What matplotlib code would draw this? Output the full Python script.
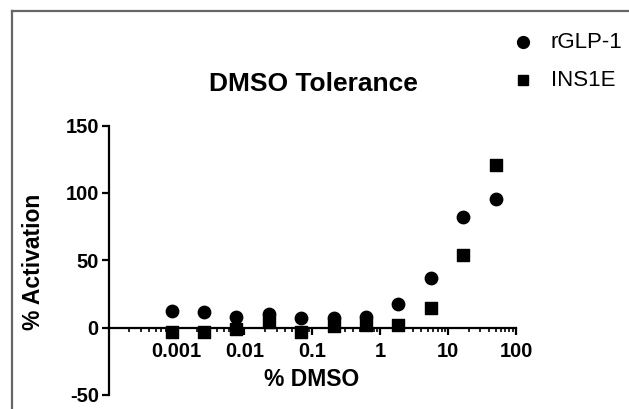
import matplotlib
matplotlib.use("Agg")
import matplotlib.pyplot as plt
from matplotlib.lines import Line2D
from matplotlib.ticker import LogLocator, FixedLocator, NullFormatter

plt.rcParams['font.family'] = ['Liberation Sans', 'DejaVu Sans']
plt.rcParams['axes.unicode_minus'] = False

# Data
dmso = [50/3**10, 50/3**9, 50/3**8, 50/3**7, 50/3**6, 50/3**5,
        50/3**4, 50/3**3, 50/3**2, 50/3, 50]
rglp1 = [12, 11.5, 7.6, 10, 6.8, 7.1, 8.1, 17.7, 37.1, 82.2, 95.3]
ins1e = [-3.2, -3.1, -0.7, 3.9, -3.2, 1.0, 2.2, 1.7, 14.4, 54, 121]
xticks = [0.001, 0.01, 0.1, 1, 10, 100]
xticklabels = ['0.001', '0.01', '0.1', '1', '10', '100']
yticks = [-50, 0, 50, 100, 150]

W, H = 629, 409
fig = plt.figure(figsize=(W/100, H/100), dpi=100)

# frame lines (top and left visible in the crop)
fig.add_artist(Line2D([12/W, 12/W], [0, 1 - 11/H], transform=fig.transFigure,
                      color='#666666', lw=1.6))
fig.add_artist(Line2D([12/W, 1], [1 - 11/H, 1 - 11/H], transform=fig.transFigure,
                      color='#666666', lw=1.6))

left, right = 108.5, 516
top, bottom = 125.5, 395
ax = fig.add_axes([left/W, 1 - bottom/H, (right-left)/W, (bottom-top)/H])

ax.scatter(dmso, rglp1, marker='o', s=80, color='black', zorder=3, clip_on=False)
ax.scatter(dmso, ins1e, marker='s', s=72, color='black', zorder=3, clip_on=False)

ax.set_xscale('log')
ax.set_xlim(1e-4, 100)
ax.set_ylim(-50, 150)

for s in ['top', 'right']:
    ax.spines[s].set_visible(False)
ax.spines['bottom'].set_position(('data', 0))
ax.spines['left'].set_linewidth(1.6)
ax.spines['bottom'].set_linewidth(1.6)

ax.xaxis.set_major_locator(FixedLocator(xticks))
ax.set_xticklabels(xticklabels)
ax.xaxis.set_minor_locator(LogLocator(base=10, subs=range(2, 10), numticks=20))
ax.xaxis.set_minor_formatter(NullFormatter())
ax.set_yticks(yticks)

ax.tick_params(axis='both', which='major', direction='out', length=5, width=1.6,
               labelsize=14.5)
ax.tick_params(axis='x', which='minor', direction='out', length=3, width=1.2)
ax.tick_params(axis='x', which='major', pad=5)
ax.tick_params(axis='y', which='major', pad=2)
for lab in ax.get_xticklabels() + ax.get_yticklabels():
    lab.set_fontweight('bold')

fig.text(313/W, 1 - 84/H, 'DMSO Tolerance', ha='center', va='center',
         fontsize=19, fontweight='bold')
fig.text(312/W, 1 - 380/H, '% DMSO', ha='center', va='center',
         fontsize=16.5, fontweight='bold')
fig.text(34/W, 1 - 262/H, '% Activation', ha='center', va='center',
         rotation=90, fontsize=16.5, fontweight='bold')

# legend
fig.add_artist(Line2D([523/W], [1 - 42/H], marker='o', ms=8.5, color='black',
                      transform=fig.transFigure, ls='none'))
fig.add_artist(Line2D([523/W], [1 - 80/H], marker='s', ms=7.5, color='black',
                      transform=fig.transFigure, ls='none'))
fig.text(551/W, 1 - 42/H, 'rGLP-1', ha='left', va='center', fontsize=16)
fig.text(551/W, 1 - 80/H, 'INS1E', ha='left', va='center', fontsize=16)

fig.savefig('out.png', dpi=100)
